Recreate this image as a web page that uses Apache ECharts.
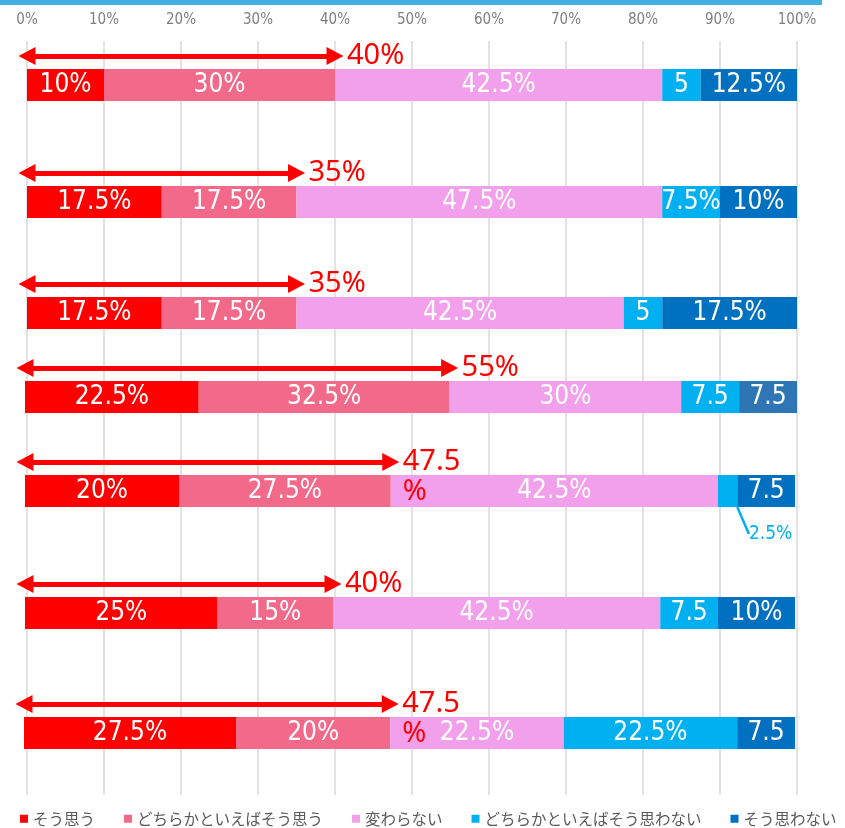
<!DOCTYPE html>
<html>
<head>
<meta charset="utf-8">
<script src="https://cdn.jsdelivr.net/npm/echarts@6/dist/echarts.min.js"></script>
<style>
  html, body { margin: 0; padding: 0; background: #fff; }
  #chart { width: 845px; height: 828px; }
</style>
</head>
<body>
<div id="chart"></div>
<script>
// 凡例(回答)
var answerNames = ['そう思う', 'どちらかといえばそう思う', '変わらない', 'どちらかといえばそう思わない', 'そう思わない'];

// 各設問の値(%)
var souOmou      = [10, 17.5, 17.5, 22.5, 20, 25, 27.5];
var dochiraSou   = [30, 17.5, 17.5, 32.5, 27.5, 15, 20];
var kawaranai    = [42.5, 47.5, 42.5, 30, 42.5, 42.5, 22.5];
var dochiraNai   = [5, 7.5, 5, 7.5, 2.5, 7.5, 22.5];
var souOmowanai  = [12.5, 10, 17.5, 7.5, 7.5, 10, 7.5];

// 棒の中の表示ラベル
var souOmouText     = ['10%', '17.5%', '17.5%', '22.5%', '20%', '25%', '27.5%'];
var dochiraSouText  = ['30%', '17.5%', '17.5%', '32.5%', '27.5%', '15%', '20%'];
var kawaranaiText   = ['42.5%', '47.5%', '42.5%', '30%', '42.5%', '42.5%', '22.5%'];
var dochiraNaiText  = ['5', '7.5%', '5', '7.5', '2.5%', '7.5', '22.5%'];
var souOmowanaiText = ['12.5%', '10%', '17.5%', '7.5', '7.5', '10%', '7.5'];

// 矢印のラベル(肯定計)
var arrowText = ['40%', '35%', '35%', '55%', '47.5\n%', '40%', '47.5\n%'];

// 上の目盛り
var tickMin = 0, tickMax = 100, tickStep = 10;

var seriesValues = [souOmou, dochiraSou, kawaranai, dochiraNai, souOmowanai];
var seriesTexts = [souOmouText, dochiraSouText, kawaranaiText, dochiraNaiText, souOmowanaiText];

// レイアウト
var colors = ['#ff0000', '#f2698a', '#f3a0ec', '#00b0f0', '#0070c0'];
var rowTop = [41, 158, 269, 353, 447, 569, 689];
var rowLeft = [27, 27, 27, 25, 25, 25, 24];
var rowRight = [48, 48, 48, 48, 50, 50, 50];
var narrowFont = "'DejaVu Sans', sans-serif";

var grids = [{ left: 27, right: 48, top: 41, bottom: 33 }];
var xAxes = [{
	type: 'value', gridIndex: 0, position: 'top',
	min: tickMin, max: tickMax, interval: tickStep,
	axisLine: { show: false }, axisTick: { show: false },
	axisLabel: { formatter: '{value}%', color: '#7f7f7f', fontSize: 15, margin: 13, fontFamily: narrowFont, fontStyle: 'condensed' },
	splitLine: { lineStyle: { color: '#d9d9d9', width: 1.5 } }
}];
var yAxes = [{ type: 'category', gridIndex: 0, data: [''], show: false }];
var series = [];

for (var i = 0; i < souOmou.length; i++) {
	grids.push({ left: rowLeft[i], right: rowRight[i], top: rowTop[i], height: 60 });
	xAxes.push({ type: 'value', gridIndex: i + 1, min: tickMin, max: tickMax, show: false });
	yAxes.push({ type: 'category', gridIndex: i + 1, data: ['arrow', 'bar'], inverse: true, show: false });

	var positive = souOmou[i] + dochiraSou[i];

	for (var k = 0; k < answerNames.length; k++) {
		(function (row, idx) {
			var s = {
				name: answerNames[idx],
				type: 'bar',
				stack: 'row' + row,
				xAxisIndex: row + 1,
				yAxisIndex: row + 1,
				barWidth: 34,
				silent: true,
				itemStyle: { color: colors[idx] },
				label: {
					show: true,
					position: 'inside',
					color: '#fff',
					fontSize: 26,
					fontStyle: 'condensed',
					fontFamily: narrowFont,
					formatter: function () { return seriesTexts[idx][row]; }
				},
				data: ['-', seriesValues[idx][row]]
			};
			// 4行目の「そう思わない」は色が少し違う
			if (row === 3 && idx === 4) {
				s.data = ['-', { value: seriesValues[idx][row], itemStyle: { color: '#2e75b6' } }];
			}
			// 2.5% は外に出して引き出し線
			if (row === 4 && idx === 3) {
				s.label.color = '#00b0f0';
				s.label.fontSize = 19;
				s.labelLine = { show: true, lineStyle: { color: '#00b0f0', width: 2.5 } };
				s.labelLayout = { dx: 43, dy: 43 };
			}
			if (idx === 0) {
				s.markLine = {
					silent: true,
					symbol: ['triangle', 'triangle'],
					symbolSize: [18, 17],
					lineStyle: { color: '#ff0000', width: 5, type: 'solid' },
					label: {
						show: true,
						position: 'end',
						distance: 12,
						color: '#ff0000',
						fontSize: 29,
						lineHeight: 30,
						fontFamily: 'Noto Sans',
						formatter: function () {
							// 2行の時は1行目を矢印の高さに合わせる
							var t = arrowText[row];
							return t.indexOf('\n') >= 0 ? '\n' + t : t;
						}
					},
					data: [[{ coord: [0, 'arrow'] }, { coord: [positive, 'arrow'] }]]
				};
			}
			series.push(s);
		})(i, k);
	}
}

var chart = echarts.init(document.getElementById('chart'));
chart.setOption({
	animation: false,
	backgroundColor: '#fff',
	graphic: [{
		type: 'rect',
		shape: { x: 0, y: 0, width: 822, height: 5 },
		style: { fill: '#44aee0' }
	}],
	legend: {
		data: answerNames,
		left: 20,
		top: 811,
		padding: 0,
		icon: 'rect',
		itemWidth: 8,
		itemHeight: 8,
		itemGap: 29,
		textStyle: { fontSize: 15.5, color: '#595959', fontFamily: 'Noto Sans CJK JP' }
	},
	grid: grids,
	xAxis: xAxes,
	yAxis: yAxes,
	series: series
});
</script>
</body>
</html>
